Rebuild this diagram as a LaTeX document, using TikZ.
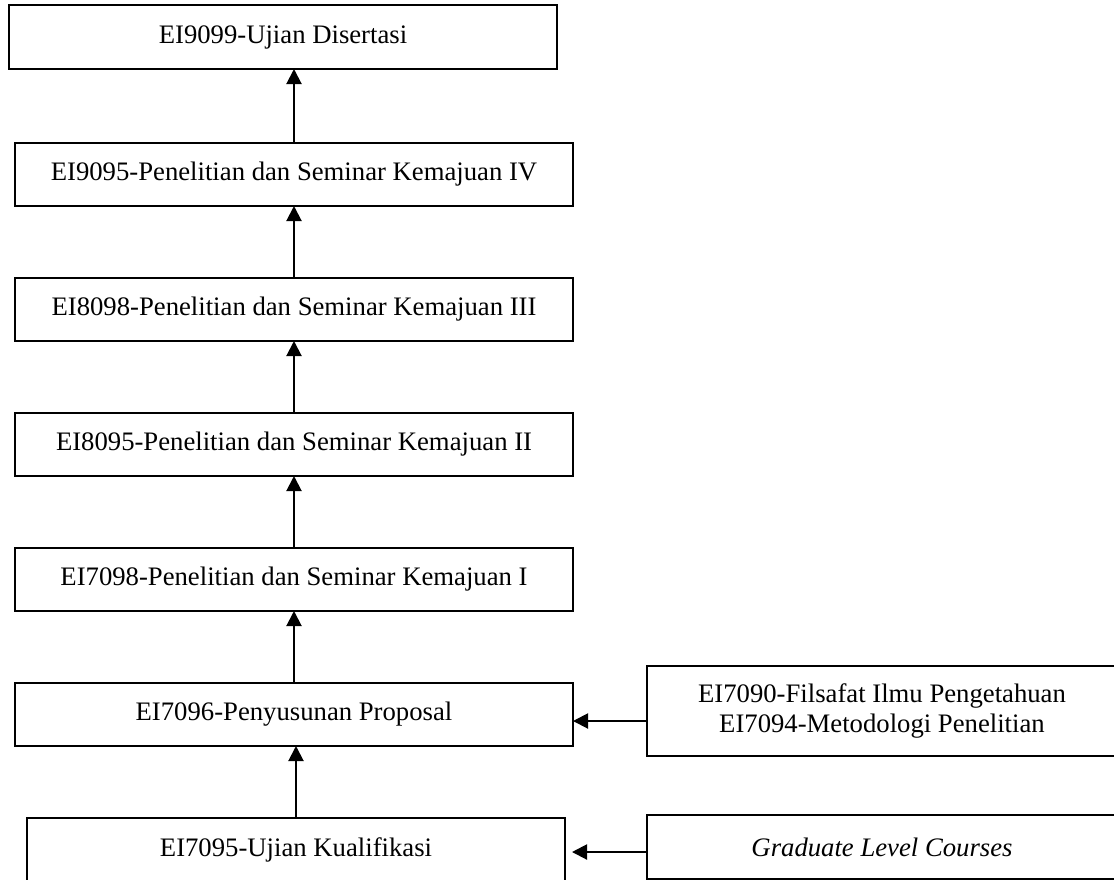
\documentclass[tikz,border=0pt]{standalone}
\usepackage{fontspec}
\setmainfont{Liberation Serif}
\usetikzlibrary{positioning,arrows.meta}

\begin{document}
\begin{tikzpicture}[
    x=0.5pt, y=-0.5pt,
    font=\fontsize{13.35pt}{15pt}\selectfont,
    node distance=36pt,
    box/.style={draw, line width=0.9pt, align=center, outer sep=0pt,
                minimum height=31.5pt, minimum width=279pt, inner sep=3pt},
    arr/.style={-{Triangle[length=7.5pt, width=7.5pt]}, line width=1pt},
  ]
  \path[use as bounding box, fill=white] (0,0) rectangle (1114,879);

  \node[box] (prop) at (294,714.5) {EI7096-Penyusunan Proposal};
  \node[box, above=of prop] (sem1) {EI7098-Penelitian dan Seminar Kemajuan I};
  \node[box, above=of sem1] (sem2) {EI8095-Penelitian dan Seminar Kemajuan II};
  \node[box, above=of sem2] (sem3) {EI8098-Penelitian dan Seminar Kemajuan III};
  \node[box, above=of sem3] (sem4) {EI9095-Penelitian dan Seminar Kemajuan IV};
  \node[box, minimum width=274pt, minimum height=32pt, above=37pt of sem4, xshift=-5.5pt] (dis) {EI9099-Ujian Disertasi};
  \node[box, minimum width=269pt, minimum height=32pt, below=of prop, xshift=1pt] (kual) {EI7095-Ujian Kualifikasi};

  % prerequisite courses on the right
  \node[box, minimum width=235pt, minimum height=45pt] (fil) at (882,711)
    {EI7090-Filsafat Ilmu Pengetahuan\\EI7094-Metodologi Penelitian};
  \node[box, minimum width=235pt, minimum height=32pt, below=29.5pt of fil] (grad)
    {\itshape Graduate Level Courses};

  \draw[arr] (kual.north) -- (kual.north |- prop.south);
  \draw[arr] (prop) -- (sem1);
  \draw[arr] (sem1) -- (sem2);
  \draw[arr] (sem2) -- (sem3);
  \draw[arr] (sem3) -- (sem4);
  \draw[arr] (sem4.north) -- (sem4.north |- dis.south);

  \coordinate (fa) at ([yshift=-5pt]fil.west);
  \draw[arr] (fa) -- (fa -| prop.east);
  \coordinate (ga) at ([yshift=-2.5pt]grad.west);
  \draw[arr, shorten >=3.5pt] (ga) -- (ga -| kual.east);
\end{tikzpicture}
\end{document}
